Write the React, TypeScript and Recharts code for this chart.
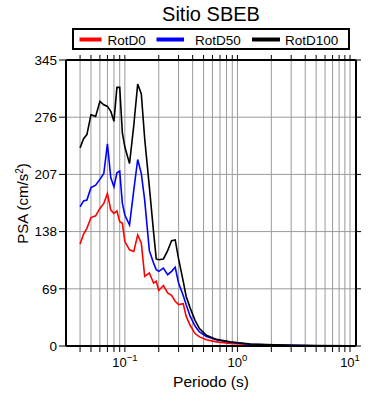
import React from 'react';
import { LineChart, Line, XAxis, YAxis, CartesianGrid, ReferenceLine } from 'recharts';

const periods = [0.04, 0.043, 0.046, 0.05, 0.055, 0.06, 0.065, 0.07, 0.075, 0.08, 0.085, 0.09, 0.095, 0.1, 0.11, 0.12, 0.13, 0.14, 0.15, 0.165, 0.18, 0.19, 0.2, 0.22, 0.24, 0.26, 0.28, 0.3, 0.33, 0.35, 0.38, 0.42, 0.46, 0.53, 0.65, 0.86, 1.3, 1.8, 3, 5, 10];
const rotD0 = [123, 135, 142, 155, 157, 166, 172, 184, 164, 160, 163, 150, 148, 126, 116, 114, 134, 124, 84, 88, 76, 78, 67, 73, 64, 61, 54, 50, 51, 36, 25, 15, 11, 7.5, 5, 3, 1.8, 1.2, 0.6, 0.3, 0.1];
const rotD50 = [168, 175, 176, 191, 194, 201, 208, 244, 203, 192, 209, 211, 172, 158, 146, 188, 225, 208, 176, 115, 100, 92, 90, 94, 86, 90, 95, 76, 61, 50, 36, 24, 17, 11.5, 7.5, 4.5, 2.2, 1.4, 0.7, 0.35, 0.12];
const rotD100 = [239, 250, 255, 279, 277, 295, 291, 289, 283, 271, 312, 312, 257, 240, 220, 266, 316, 304, 250, 192, 137, 105, 104, 105, 115, 127, 128, 105, 78, 60, 46, 31, 21, 13, 8, 5, 2.4, 1.6, 0.8, 0.4, 0.15];

const seriesNames = ['RotD0', 'RotD50', 'RotD100'];
const seriesColors = ['#ff0000', '#0000ff', '#000000'];
const yTicks = [0, 69, 138, 207, 276, 345];
const xTicks = [0.04, 0.05, 0.06, 0.07, 0.08, 0.09, 0.1, 0.2, 0.3, 0.4, 0.5, 0.6, 0.7, 0.8, 0.9, 1, 2, 3, 4, 5, 6, 7, 8, 9, 10];
const xDomain = [0.03, 11.3];
const yDomain = [0, 345];
const title = 'Sitio SBEB';
const xLabel = 'Periodo (s)';

const data = periods.map((p, i) => ({
  period: p,
  RotD0: rotD0[i],
  RotD50: rotD50[i],
  RotD100: rotD100[i],
}));

const FONT = '"Liberation Sans", Arial, Helvetica, sans-serif';
const CHART_W = 390;
const CHART_H = 400;
const MARGIN = { top: 60, right: 34, left: 0, bottom: 0 };
const Y_AXIS_W = 66;
const X_AXIS_H = 54;
const PLOT_W = CHART_W - MARGIN.left - MARGIN.right - Y_AXIS_W;
const PLOT_H = CHART_H - MARGIN.top - MARGIN.bottom - X_AXIS_H;
const X_TICK_SIZE = 6;
const X_TICK_MARGIN = 2;
const Y_TICK_SIZE = 7;
const Y_TICK_MARGIN = 2;
const MIRROR_TICK = 5;

function XTick(props: any) {
  const { x, y, payload } = props;
  const v = payload.value;
  const exp = Math.round(Math.log10(v));
  const isMajor = Math.abs(v - Math.pow(10, exp)) < 1e-9;
  const topY = y - X_TICK_SIZE - X_TICK_MARGIN - PLOT_H;
  const expStr = exp < 0 ? '\u2212' + Math.abs(exp) : String(exp);
  return (
    <g>
      <line x1={x} x2={x} y1={topY - MIRROR_TICK} y2={topY} stroke="#000" strokeWidth={1} />
      {isMajor && (
        <text x={x} y={y} dy={13} textAnchor="middle" fontSize={13} fontFamily={FONT} fill="#000">
          <tspan>10</tspan>
          <tspan dy={-6} fontSize={9.5}>{expStr}</tspan>
        </text>
      )}
    </g>
  );
}

function YTick(props: any) {
  const { x, y, payload } = props;
  const rightX = x + Y_TICK_SIZE + Y_TICK_MARGIN + PLOT_W;
  return (
    <g>
      <line x1={rightX} x2={rightX + MIRROR_TICK} y1={y} y2={y} stroke="#000" strokeWidth={1} />
      <text x={x} y={y} dy="0.355em" textAnchor="end" fontSize={13.5} fontFamily={FONT} fill="#000">
        {payload.value}
      </text>
    </g>
  );
}

export default function App() {
  return (
    <div style={{ position: 'absolute', left: 0, top: 0, width: CHART_W, height: CHART_H, background: '#fff', fontFamily: FONT }}>
      <LineChart width={CHART_W} height={CHART_H} data={data} margin={MARGIN}>
        <CartesianGrid stroke="#9a9a9a" strokeWidth={1} />
        <XAxis
          dataKey="period"
          type="number"
          scale="log"
          domain={xDomain}
          allowDataOverflow
          ticks={xTicks}
          interval={0}
          height={X_AXIS_H}
          tickSize={X_TICK_SIZE}
          tickMargin={X_TICK_MARGIN}
          tick={<XTick />}
          axisLine={{ stroke: '#000', strokeWidth: 2 }}
          tickLine={{ stroke: '#000', strokeWidth: 1 }}
        />
        <YAxis
          type="number"
          domain={yDomain}
          ticks={yTicks}
          interval={0}
          width={Y_AXIS_W}
          tickSize={Y_TICK_SIZE}
          tickMargin={Y_TICK_MARGIN}
          tick={<YTick />}
          axisLine={{ stroke: '#000', strokeWidth: 2 }}
          tickLine={{ stroke: '#000', strokeWidth: 1 }}
        />
        {seriesNames.map((name, i) => (
          <Line
            key={name}
            dataKey={name}
            name={name}
            stroke={seriesColors[i]}
            strokeWidth={1.6}
            dot={false}
            isAnimationActive={false}
          />
        ))}
        <ReferenceLine y={yDomain[1]} stroke="#000" strokeWidth={2} ifOverflow="visible" />
        <ReferenceLine x={xDomain[1]} stroke="#000" strokeWidth={2} ifOverflow="visible" />
      </LineChart>
      <svg width={CHART_W} height={CHART_H} style={{ position: 'absolute', left: 0, top: 0, pointerEvents: 'none' }}>
        <text x={211} y={21} textAnchor="middle" fontSize={20} fontFamily={FONT} fill="#000">{title}</text>
        <rect x={73} y={29} width={276} height={20} fill="#fff" stroke="#000" strokeWidth={2} />
        <line x1={79.5} y1={39.5} x2={101.5} y2={39.5} stroke={seriesColors[0]} strokeWidth={4} />
        <text x={107.5} y={44.5} fontSize={13.5} fontFamily={FONT} fill="#000">{seriesNames[0]}</text>
        <line x1={156.5} y1={39.5} x2={184} y2={39.5} stroke={seriesColors[1]} strokeWidth={4} />
        <text x={195} y={44.5} fontSize={13.5} fontFamily={FONT} fill="#000">{seriesNames[1]}</text>
        <line x1={252} y1={39.5} x2={280} y2={39.5} stroke={seriesColors[2]} strokeWidth={4} />
        <text x={285} y={44.5} fontSize={13.5} fontFamily={FONT} fill="#000">{seriesNames[2]}</text>
        <text x={211} y={387} textAnchor="middle" fontSize={15.5} fontFamily={FONT} fill="#000">{xLabel}</text>
        <text transform="translate(27.5,203.5) rotate(-90)" textAnchor="middle" fontSize={15} fontFamily={FONT} fill="#000">
          <tspan>PSA (cm/s</tspan>
          <tspan dy={-5} fontSize={10}>2</tspan>
          <tspan dy={5}>)</tspan>
        </text>
      </svg>
    </div>
  );
}
